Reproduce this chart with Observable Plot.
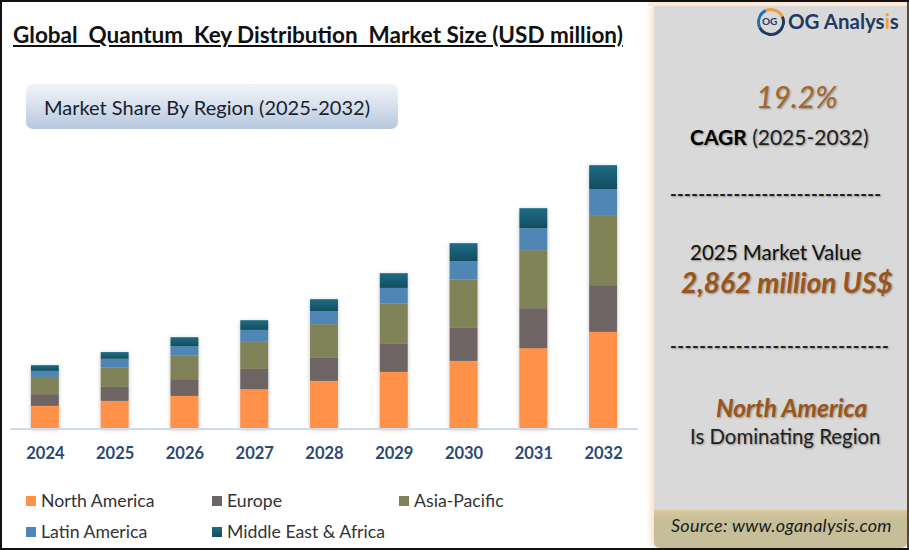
<!DOCTYPE html>
<html>
<head>
<meta charset="utf-8">
<script src="https://cdn.jsdelivr.net/npm/d3@7"></script>
<script src="https://cdn.jsdelivr.net/npm/@observablehq/plot@0.6"></script>
<style>
html,body{margin:0;padding:0;background:#fff;}
#page{position:relative;width:909px;height:550px;overflow:hidden;background:#fff;font-family:Lato,sans-serif;color:#111;box-sizing:border-box;border:2px solid #111;border-right:none;}
#inner{position:absolute;left:-2px;top:-2px;width:909px;height:550px;}
.t{position:absolute;white-space:pre;line-height:1;}
#chart{position:absolute;left:0;top:0;}
#chart svg g[aria-label="bar"]{filter:drop-shadow(0 1px 2px rgba(60,60,60,.3));}
#panel{position:absolute;left:654px;top:6px;width:253px;height:540px;background:#d9d9d9;box-shadow:-4px 0 5px #fde4cd;}
#strip{position:absolute;left:654px;top:510px;width:253px;height:38px;background:linear-gradient(#dcc7a0 0,#c6bf99 25%,#c4bd97 100%);border-radius:0 0 6px 6px;}
#cream{position:absolute;left:648px;top:2px;width:259px;height:4px;background:#fdebd9;}
#rightline{position:absolute;left:907px;top:0;width:2px;height:550px;background:#5a4632;}
#subbox{position:absolute;left:26px;top:84px;width:372px;height:45px;border-radius:7px;background:linear-gradient(#f1f4f9,#dfe6f0 35%,#b6c7de);}
.sh{text-shadow:1px 1px 2px rgba(0,0,0,.35);}
.brown{color:#9b5518;font-weight:700;font-style:italic;}
#ring{position:absolute;left:757px;top:8px;width:22px;height:22px;border-radius:50%;border:3px solid #1f3a63;border-top-color:#e9a23b;border-left-color:#1f6fb2;transform:rotate(20deg);}
.sw{position:absolute;width:10px;height:10px;}
</style>
</head>
<body>
<div id="page"><div id="inner">
  <div id="chart"></div>
  <div class="t" id="title" style="left:13px;top:24px;font-size:22.5px;font-weight:700;text-decoration:underline;color:#111;"></div>
  <div id="subbox"></div>
  <div class="t" id="sub" style="left:44px;top:97px;font-size:20px;color:#18222e;"></div>
  <div id="legend"></div>
  <div id="cream"></div>
  <div id="panel"></div>
  <div id="strip"></div>
  <div id="rightline"></div>
  <div id="ring"></div>
  <div class="t" style="left:762px;top:16px;font-size:10px;font-weight:700;color:#1f3a63;">OG</div>
  <div class="t" style="left:788px;top:11px;font-size:20.5px;font-weight:700;color:#1f3a63;">OG Analys<span style="color:#e9a23b">i</span>s</div>
  <div class="t sh" style="left:756px;top:81px;font-size:30px;font-style:italic;color:#a5662c;">19.2%</div>
  <div class="t sh" style="left:690px;top:126px;font-size:21px;color:#222;"><b style="color:#000">CAGR</b> (2025-2032)</div>
  <div class="t sh" style="left:670px;top:185px;font-size:18px;font-weight:700;letter-spacing:.33px;color:#222;">------------------------------</div>
  <div class="t sh" style="left:690px;top:242px;font-size:20.5px;color:#111;">2025 Market Value</div>
  <div class="t sh brown" style="left:681px;top:268px;font-size:28px;">2,862 million US$</div>
  <div class="t sh" style="left:670px;top:337px;font-size:18px;font-weight:700;letter-spacing:.6px;color:#222;">------------------------------</div>
  <div class="t sh brown" style="left:716px;top:396px;font-size:24.5px;">North America</div>
  <div class="t sh" style="left:690px;top:426px;font-size:20.4px;color:#222;">Is Dominating Region</div>
  <div class="t" style="left:671px;top:516px;font-size:18px;letter-spacing:.25px;font-style:italic;color:#1c1c1c;">Source: www.oganalysis.com</div>
</div></div>
<script>
const titleText = "Global  Quantum  Key Distribution  Market Size (USD million)";
const subtitleText = "Market Share By Region (2025-2032)";
const years = ["2024","2025","2026","2027","2028","2029","2030","2031","2032"];
const regions = ["North America","Europe","Asia-Pacific","Latin America","Middle East & Africa"];
const northAmerica = [847,1034,1221,1472,1783,2120,2532,3008,3619];
const europe = [438,524,626,760,862,1049,1236,1498,1749];
const asiaPacific = [648,727,888,1038,1262,1513,1813,2173,2596];
const latinAmerica = [225,326,348,423,487,584,686,824,1000];
const middleEastAfrica = [214,251,337,363,450,551,674,749,899];
const seriesValues = [northAmerica,europe,asiaPacific,latinAmerica,middleEastAfrica];
const colors = ["#ff9148","#6e6464","#7f8357","#4f86b5","url(#meaGrad)"];
const legendColors = ["#ff9148","#6e6464","#7f8357","#4f86b5","linear-gradient(#1d6c86,#134d5e)"];
const legendX = [26,212,399,26,212];
const legendY = [496,496,496,527,527];

const rows = regions.flatMap((r,i)=>years.map((y,j)=>({year:y,region:r,value:seriesValues[i][j]})));

const defs = () => {
  const g = d3.create("svg:defs");
  const lg = g.append("linearGradient").attr("id","meaGrad").attr("x1",0).attr("x2",0).attr("y1",0).attr("y2",1);
  lg.append("stop").attr("offset","0%").attr("stop-color","#1d6c86");
  lg.append("stop").attr("offset","100%").attr("stop-color","#134d5e");
  return g.node();
};

const plot = Plot.plot({
  width:640,
  height:470,
  marginLeft:10,
  marginRight:2,
  marginTop:0,
  marginBottom:41.5,
  style:{background:"transparent",overflow:"visible"},
  x:{domain:years,paddingInner:0.6,paddingOuter:0.3,round:false,label:null},
  y:{domain:[0,10000],range:[428.5,161.5],axis:null},
  color:{domain:regions,range:colors},
  marks:[
    defs,
    Plot.barY(rows,{x:"year",y:"value",fill:"region",order:regions}),
    Plot.ruleY([0],{stroke:"#cfdcf0",strokeWidth:2}),
    Plot.axisX({tickSize:0,tickPadding:18,fontSize:16.5,fontWeight:700,fontFamily:"Lato, sans-serif",color:"#2b4a75",fill:"#2b4a75",label:null})
  ]
});
document.getElementById("chart").append(plot);
document.getElementById("title").textContent = titleText;
document.getElementById("sub").textContent = subtitleText;

const legend = document.getElementById("legend");
regions.forEach((r,i)=>{
  const s = document.createElement("div");
  s.className="sw";
  s.style.cssText=`left:${legendX[i]}px;top:${legendY[i]}px;background:${legendColors[i]}`;
  legend.append(s);
  const t = document.createElement("div");
  t.className="t";
  t.style.cssText=`left:${legendX[i]+15}px;top:${legendY[i]-4}px;font-size:17.7px;color:#333`;
  t.textContent=r;
  legend.append(t);
});
</script>
</body>
</html>
